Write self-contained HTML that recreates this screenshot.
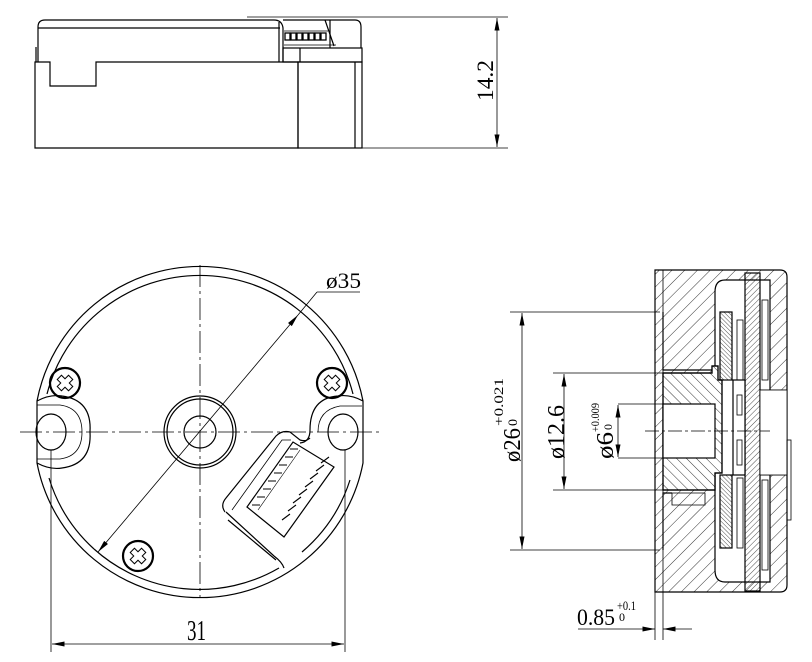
<!DOCTYPE html>
<html><head><meta charset="utf-8"><style>
html,body{margin:0;padding:0;background:#fff;}
svg{display:block;}
text{font-family:"Liberation Serif",serif;fill:#000;}
</style></head><body>
<svg width="812" height="662" viewBox="0 0 812 662" xmlns="http://www.w3.org/2000/svg">
<defs>
<pattern id="h1" width="9" height="9" patternUnits="userSpaceOnUse" patternTransform="rotate(45)"><line x1="0" y1="0" x2="0" y2="9" stroke="#000" stroke-width="0.8"/></pattern>
<pattern id="h2" width="7" height="7" patternUnits="userSpaceOnUse" patternTransform="rotate(-45)"><line x1="0" y1="0" x2="0" y2="7" stroke="#000" stroke-width="0.8"/></pattern>
<pattern id="h3" width="3" height="3" patternUnits="userSpaceOnUse" patternTransform="rotate(-45)"><line x1="0" y1="0" x2="0" y2="3" stroke="#000" stroke-width="0.7"/></pattern>
<pattern id="h4" width="4" height="4" patternUnits="userSpaceOnUse" patternTransform="rotate(45)"><line x1="0" y1="0" x2="0" y2="4" stroke="#000" stroke-width="0.7"/></pattern>
<marker id="ar" viewBox="0 0 10 4" refX="10" refY="2" markerWidth="14" markerHeight="5" orient="auto-start-reverse" markerUnits="userSpaceOnUse"><path d="M0,0 L10,2 L0,4z" fill="#000"/></marker>
</defs>
<g fill="none" stroke="#000" stroke-width="1.2">
<!-- TOP VIEW -->
<path d="M35,148 V62 H50 V86 H96 V62 H298 V148 Z"/>
<rect x="298" y="62" width="64" height="86"/>
<line x1="355" y1="62" x2="355" y2="148"/>
<line x1="36" y1="47" x2="36" y2="62"/>
<path d="M38,62 V27 Q38,20 45,20 H274 Q282,20 283,28 V62"/>
<line x1="38" y1="28" x2="280" y2="28"/>
<line x1="279" y1="22" x2="279" y2="62"/>
<path d="M283,20 H355 Q361,20 361,27 V48"/>
<rect x="283" y="48" width="79" height="14"/>
<line x1="300" y1="48" x2="300" y2="62"/>
<line x1="330" y1="20" x2="330" y2="48"/>
<line x1="325" y1="20" x2="334" y2="46"/>
<path d="M284,31 H328 M284,45 H336" stroke-width="0.8"/>
<g stroke-width="1.3"><rect x="285" y="33" width="5" height="7"/><rect x="291" y="33" width="5" height="7"/><rect x="297" y="33" width="5" height="7"/><rect x="303" y="33" width="5" height="7"/><rect x="309" y="33" width="5" height="7"/><rect x="315" y="33" width="5" height="7"/><rect x="321" y="33" width="5" height="7"/></g>
<g stroke-width="0.8"><line x1="247" y1="17" x2="508" y2="17"/><line x1="362" y1="148" x2="508" y2="148"/>
<line x1="497" y1="18" x2="497" y2="147" marker-start="url(#ar)" marker-end="url(#ar)"/></g>

<!-- FRONT CIRCLE VIEW -->
<g stroke-width="0.8" stroke-dasharray="22,4,3,4"><line x1="20" y1="432" x2="382" y2="432"/><line x1="200" y1="265" x2="200" y2="598"/></g>
<path d="M37,401 A166,166 0 0 1 363,401 V463 A166,166 0 0 1 37,463 Z"/>
<path d="M47,394 A158,158 0 0 1 353,394" />
<path d="M49,478 A158,158 0 0 0 94,549"/>
<path d="M94,549 A158,158 0 0 0 279,568" />
<path d="M302,552 A158,158 0 0 0 350,480"/>
<path d="M37,401 Q50,394 62,396 Q92,400 90,432 Q92,464 62,468 Q50,470 37,463"/>
<path d="M37,405 L60,405 Q82,408 82,432 Q82,456 60,459 L37,459" stroke-width="0.8"/>
<ellipse cx="51" cy="432" rx="15" ry="18"/>
<path d="M363,401 Q350,394 338,396 Q310,398 310,430 Q310,442 300,443"/>
<path d="M362,406 L340,406 Q318,410 318,432" stroke-width="0.8"/>
<ellipse cx="343" cy="432" rx="15" ry="18"/>
<circle cx="200" cy="432" r="36"/><circle cx="200" cy="432" r="33"/><circle cx="200" cy="432" r="16"/>
<g stroke-width="2.2"><circle cx="65" cy="383" r="15"/><circle cx="332" cy="383" r="15"/><circle cx="138" cy="556" r="15"/></g>
<g stroke-width="1">
<path d="M62,375h6v5h5v6h-5v5h-6v-5h-5v-6h5z" transform="rotate(45 65 383)"/>
<path d="M329,375h6v5h5v6h-5v5h-6v-5h-5v-6h5z" transform="rotate(45 332 383)"/>
<path d="M135,548h6v5h5v6h-5v5h-6v-5h-5v-6h5z" transform="rotate(45 138 556)"/>
</g>
<!-- connector housing -->
<path d="M225,512 Q220,505 226,498 L276,436 Q282,430 290,432 L300,440 Q306,442 310,438 M226,512 L274,556 Q282,562 284,568 M228,520 L276,560"/>
<path d="M232,510 L282,440 L291,440" stroke-width="0.8"/>
<path d="M247,507 L293,442 L334,467 L284,537 Z"/>
<path d="M258,510 L300,450" stroke-width="0.6"/>
<g stroke-width="1.1"><path d="M252,505h8M257,497h8M263,489h8M268,481h8M274,473h8M279,465h8M285,457h8M290,449h8"/>
<path d="M282,520l8,-6M288,511l8,-6M293,503l8,-6M299,495l8,-6M305,487l8,-6M310,479l8,-6M316,471l8,-6M321,463l8,-6"/></g>
<!-- ø35 diameter -->
<g stroke-width="0.8"><line x1="98" y1="552" x2="298" y2="315" marker-start="url(#ar)" marker-end="url(#ar)"/><line x1="298" y1="315" x2="317" y2="292"/><line x1="317" y1="292" x2="360" y2="292"/>
<line x1="51" y1="450" x2="51" y2="652"/><line x1="345" y1="450" x2="345" y2="652"/>
<line x1="52" y1="644" x2="344" y2="644" marker-start="url(#ar)" marker-end="url(#ar)"/></g>

<!-- SECTION VIEW -->
<path d="M655,270 H780 Q787,270 787,277 V585 Q787,592 780,592 H655 Z" fill="url(#h1)" stroke="none"/>
<path d="M655,270 H780 Q787,270 787,277 V585 Q787,592 780,592 H655 Z"/>
<line x1="663" y1="270" x2="663" y2="592" stroke-width="0.8"/>
<path d="M663,312 V370 H713 M663,550 V493 H672"/>
<path d="M725,280 Q715,280 715,292 V570 Q715,582 725,582 H770 V280 Z" fill="#fff"/>
<path d="M663,373 H712 V366 H718 V380 H722 V473 H715 V490 H663 Z" fill="#fff"/>
<path d="M663,373 H712 V366 H718 V380 H722 V473 H715 V490 H663 Z" fill="url(#h2)"/>
<rect x="663" y="404" width="52" height="54" fill="#fff"/>
<line x1="715" y1="404" x2="715" y2="458" stroke-width="0.8"/>
<rect x="720" y="312" width="12" height="68" fill="url(#h3)"/>
<rect x="720" y="475" width="12" height="73" fill="url(#h3)"/>
<rect x="745" y="273" width="15" height="318" fill="url(#h4)"/>
<rect x="733" y="380" width="12" height="95" fill="#fff"/>
<g stroke-width="0.8">
<rect x="737" y="320" width="6" height="60"/><rect x="737" y="478" width="6" height="70"/>
<rect x="737" y="395" width="5" height="20"/><rect x="737" y="440" width="5" height="25"/>
<rect x="762" y="300" width="6" height="80"/><rect x="762" y="480" width="6" height="90"/>
<line x1="760" y1="390" x2="787" y2="390"/><line x1="760" y1="475" x2="787" y2="475"/>
<rect x="760" y="390" width="27" height="85" fill="#fff"/>
<rect x="787" y="440" width="4" height="80"/>
<path d="M672,493 H705 V505 H672 Z"/>
<line x1="645" y1="431" x2="770" y2="431" stroke-dasharray="14,3,3,3"/>
</g>
<g stroke-width="0.8">
<line x1="510" y1="312" x2="660" y2="312"/><line x1="510" y1="550" x2="660" y2="550"/>
<line x1="522" y1="313" x2="522" y2="549" marker-start="url(#ar)" marker-end="url(#ar)"/>
<line x1="553" y1="373" x2="663" y2="373"/><line x1="553" y1="490" x2="663" y2="490"/>
<line x1="564" y1="374" x2="564" y2="489" marker-start="url(#ar)" marker-end="url(#ar)"/>
<line x1="618" y1="404" x2="663" y2="404"/><line x1="618" y1="458" x2="663" y2="458"/>
<line x1="618" y1="405" x2="618" y2="457" marker-start="url(#ar)" marker-end="url(#ar)"/>
<line x1="655" y1="592" x2="655" y2="640"/><line x1="663" y1="592" x2="663" y2="640"/>
<line x1="578" y1="629" x2="655" y2="629" marker-end="url(#ar)"/><line x1="692" y1="629" x2="663" y2="629" marker-end="url(#ar)"/>
</g>
</g>
<!-- TEXT -->
<text transform="translate(493,101) rotate(-90)" font-size="23" textLength="41" lengthAdjust="spacingAndGlyphs">14.2</text>
<text x="326" y="288" font-size="22" textLength="35" lengthAdjust="spacingAndGlyphs">ø35</text>
<text x="187" y="640" font-size="29" textLength="19" lengthAdjust="spacingAndGlyphs">31</text>
<text transform="translate(520,462) rotate(-90)" font-size="24" textLength="34" lengthAdjust="spacingAndGlyphs">ø26</text>
<text transform="translate(503,426) rotate(-90)" font-size="13" textLength="48" lengthAdjust="spacingAndGlyphs">+0.021</text>
<text transform="translate(517,426) rotate(-90)" font-size="13" textLength="7" lengthAdjust="spacingAndGlyphs">0</text>
<text transform="translate(564,459) rotate(-90)" font-size="24" textLength="54" lengthAdjust="spacingAndGlyphs">ø12.6</text>
<text transform="translate(613,459) rotate(-90)" font-size="24" textLength="27" lengthAdjust="spacingAndGlyphs">ø6</text>
<text transform="translate(599,432) rotate(-90)" font-size="12" textLength="29" lengthAdjust="spacingAndGlyphs">+0.009</text>
<text transform="translate(612,430) rotate(-90)" font-size="12" textLength="6" lengthAdjust="spacingAndGlyphs">0</text>
<text x="577" y="625" font-size="23" textLength="38" lengthAdjust="spacingAndGlyphs">0.85</text>
<text x="617" y="610" font-size="13" textLength="19" lengthAdjust="spacingAndGlyphs">+0.1</text>
<text x="619" y="621" font-size="12" textLength="6" lengthAdjust="spacingAndGlyphs">0</text>
</svg>
</body></html>
